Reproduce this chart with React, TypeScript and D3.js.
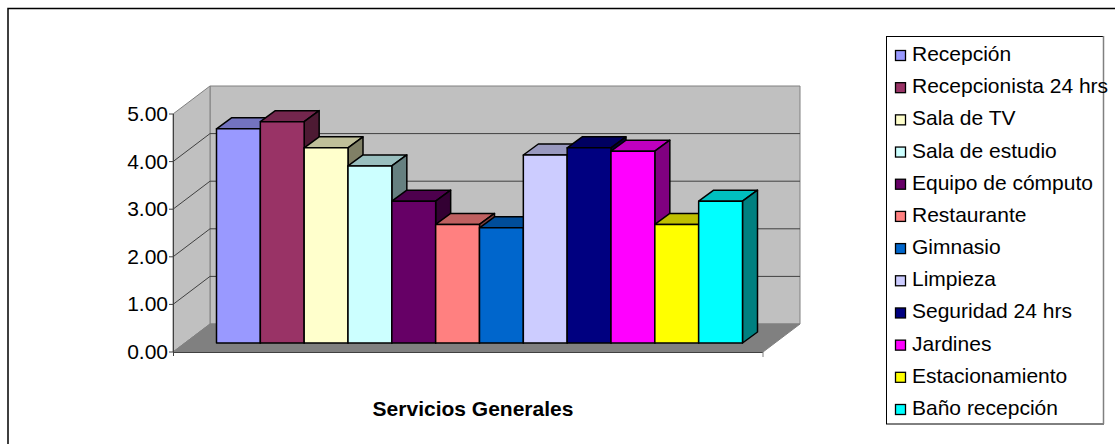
import React from "react";
import * as d3 from "d3";

const categories = ["Recepción","Recepcionista 24 hrs","Sala de TV","Sala de estudio","Equipo de cómputo","Restaurante","Gimnasio","Limpieza","Seguridad 24 hrs","Jardines","Estacionamiento","Baño recepción"];
const values = [4.5,4.65,4.1,3.72,2.98,2.49,2.42,3.95,4.1,4.03,2.49,2.98];
const colors = ["#9999FF","#993366","#FFFFCC","#CCFFFF","#660066","#FF8080","#0066CC","#CCCCFF","#000080","#FF00FF","#FFFF00","#00FFFF"];
const yTicks = [0,1,2,3,4,5];
const title = "Servicios Generales";

const font = "'Liberation Sans', Arial, sans-serif";

export default function App() {
  const y = d3.scaleLinear().domain([0,5]).range([352,114]);
  const wallDx = 37, wallDy = -28;
  const frontL = 173, frontR = 763;
  const x = d3.scaleBand<number>().domain(d3.range(categories.length)).range([216.5,742.5]).padding(0);
  const barDx = 15, barDy = -11, barBase = 343;
  const barH = (v:number)=> y(0)-y(v);
  const shade = (c:string,k:number)=>{const r=d3.rgb(c);return d3.rgb(r.r*k,r.g*k,r.b*k).formatHex();};
  const poly = (p:number[][])=>p.map(a=>a.join(",")).join(" ");
  const wallL = frontL+wallDx, wallR = frontR+wallDx;
  const legY = d3.scalePoint<string>().domain(categories).range([54,408]);
  return (
    <svg width={1115} height={444} style={{position:"absolute",left:0,top:0,display:"block"}} fontFamily={font}>
      <rect x={0} y={0} width={1115} height={444} fill="#fff"/>
      <path d="M8,444V8.5H1115" fill="none" stroke="#000" strokeWidth={1.5}/>
      {/* walls */}
      <polygon points={poly([[wallL,y(5)+wallDy],[wallR,y(5)+wallDy],[wallR,y(0)+wallDy],[wallL,y(0)+wallDy]])} fill="#C0C0C0" stroke="#808080"/>
      <polygon points={poly([[frontL,y(5)],[wallL,y(5)+wallDy],[wallL,y(0)+wallDy],[frontL,y(0)]])} fill="#C0C0C0" stroke="#808080"/>
      <polygon points={poly([[frontL,y(0)],[wallL,y(0)+wallDy],[wallR,y(0)+wallDy],[frontR,y(0)]])} fill="#808080" stroke="#808080"/>
      {yTicks.slice(1,5).map(t=>(
        <g key={t} stroke="#404040">
          <line x1={frontL} y1={y(t)} x2={wallL} y2={y(t)+wallDy}/>
          <line x1={wallL} y1={y(t)+wallDy} x2={wallR} y2={y(t)+wallDy}/>
        </g>
      ))}
      <line x1={frontL} y1={y(0)+0.5} x2={frontR} y2={y(0)+0.5} stroke="#404040"/>
      <line x1={frontL+0.5} y1={y(5)} x2={frontL+0.5} y2={y(0)+4} stroke="#404040"/>
      <line x1={frontR} y1={y(0)} x2={frontR} y2={y(0)+5} stroke="#808080"/>
      {yTicks.map(t=>(
        <g key={t}>
          <line x1={frontL-4} y1={y(t)} x2={frontL} y2={y(t)} stroke="#404040"/>
          <text x={168} y={y(t)+7} textAnchor="end" fontSize={21} fill="#000">{t.toFixed(2)}</text>
        </g>
      ))}
      {/* bars */}
      {values.map((v,i)=>{
        const l=x(i)!, r=l+x.bandwidth(), b=barBase, t=barBase-barH(v);
        return (
          <g key={i} stroke="#000" strokeWidth={1.5} strokeLinejoin="round">
            <polygon points={poly([[l,t],[r,t],[r+barDx,t+barDy],[l+barDx,t+barDy]])} fill={shade(colors[i],0.75)}/>
            <polygon points={poly([[r,t],[r+barDx,t+barDy],[r+barDx,b+barDy],[r,b]])} fill={shade(colors[i],0.5)}/>
            <rect x={l} y={t} width={r-l} height={b-t} fill={colors[i]}/>
          </g>
        );
      })}
      <text x={473} y={416} textAnchor="middle" fontWeight="bold" fill="#000" fontSize={21}>{title}</text>
      {/* legend */}
      <rect x={886.5} y={36.5} width={217} height={387.5} fill="#fff" stroke="#000"/>
      <line x1={1103.5} y1={36} x2={1103.5} y2={424} stroke="#808080" strokeWidth={1.5}/>
      {categories.map((c,i)=>{
        const cy=legY(c)!;
        return (
          <g key={c}>
            <rect x={895.5} y={cy-3.5} width={10} height={10} fill={colors[i]} stroke="#000" strokeWidth={1.3}/>
            <text x={912} y={cy+7} fontSize={21} fill="#000">{c}</text>
          </g>
        );
      })}
    </svg>
  );
}
